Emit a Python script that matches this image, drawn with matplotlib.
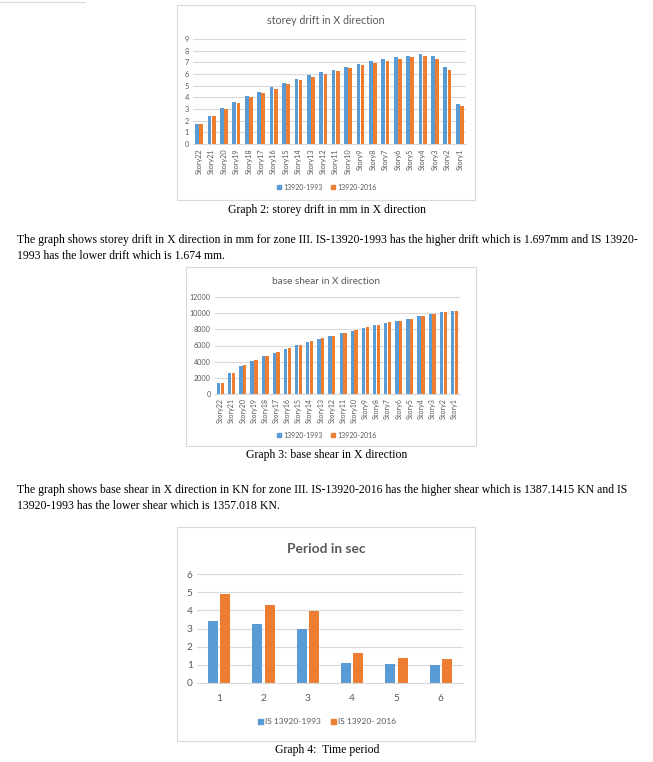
import numpy as np
import matplotlib
matplotlib.use("Agg")
import matplotlib.pyplot as plt
from matplotlib.patches import Rectangle, Patch
from matplotlib.lines import Line2D

W, H = 653, 762
BLUE = "#5B9BD5"
ORANGE = "#ED7D31"
GRID = "#D9D9D9"
TXT = "#595959"
CHART_FONT = "Lato"
DOC_FONT = "Liberation Serif"
DOC_FS = 8.45

# data
stories = [f"Story{i}" for i in range(22, 0, -1)]
drift_1993 = [1.70, 2.40, 3.07, 3.62, 4.10, 4.50, 4.85, 5.22, 5.57, 5.90, 6.15,
              6.37, 6.63, 6.88, 7.08, 7.27, 7.45, 7.55, 7.68, 7.52, 6.60, 3.40]
drift_2016 = [1.69, 2.38, 3.00, 3.55, 4.00, 4.37, 4.75, 5.12, 5.47, 5.77, 6.00,
              6.25, 6.52, 6.75, 6.97, 7.15, 7.30, 7.45, 7.55, 7.30, 6.35, 3.22]
shear_1993 = [1357, 2550, 3500, 4130, 4650, 5100, 5600, 6050, 6480, 6830, 7200,
              7500, 7850, 8200, 8480, 8750, 8980, 9250, 9600, 9870, 10130, 10230]
shear_2016 = [1387, 2620, 3560, 4230, 4750, 5200, 5650, 6100, 6530, 6930, 7230,
              7600, 7950, 8300, 8580, 8850, 9050, 9330, 9680, 9950, 10200, 10320]
modes = ["1", "2", "3", "4", "5", "6"]
period_1993 = [3.40, 3.27, 2.97, 1.10, 1.05, 0.97]
period_2016 = [4.90, 4.30, 3.97, 1.63, 1.40, 1.30]

para1 = ["The graph shows storey drift in X direction in mm for zone III. IS-13920-1993 has the higher drift which is 1.697mm and IS 13920-",
         "1993 has the lower drift which is 1.674 mm."]
para2 = ["The graph shows base shear in X direction in KN for zone III. IS-13920-2016 has the higher shear which is 1387.1415 KN and IS",
         "13920-1993 has the lower shear which is 1357.018 KN."]

fig = plt.figure(figsize=(W / 100, H / 100), dpi=100)
fig.patch.set_facecolor("white")


def fx(x):
    return x / W


def fy(y):
    return 1 - y / H


def chart_box(x0, y0, x1, y1):
    fig.add_artist(Rectangle((fx(x0), fy(y1)), (x1 - x0) / W, (y1 - y0) / H,
                             transform=fig.transFigure, fill=False,
                             edgecolor=GRID, lw=0.8))


def bar_chart(px, cats, a, b, ymax, ystep, width, off, tick_fs, rot, xpad=3):
    x0, y0, x1, y1 = px
    ax = fig.add_axes([fx(x0), fy(y1), (x1 - x0) / W, (y1 - y0) / H])
    x = np.arange(len(cats))
    ax.bar(x - off, a, width, color=BLUE, zorder=2)
    ax.bar(x + off, b, width, color=ORANGE, zorder=2)
    ax.set_xlim(-0.5, len(cats) - 0.5)
    ax.set_ylim(0, ymax)
    ax.set_yticks(np.arange(0, ymax + ystep / 2, ystep))
    ax.set_xticks(x)
    ax.set_xticklabels(cats, rotation=rot, fontfamily=CHART_FONT)
    for lab in ax.get_yticklabels():
        lab.set_fontfamily(CHART_FONT)
    ax.grid(axis="y", color=GRID, lw=0.8, zorder=0)
    ax.set_axisbelow(True)
    for s in ["top", "right", "left"]:
        ax.spines[s].set_visible(False)
    ax.spines["bottom"].set_color(GRID)
    ax.tick_params(length=0, colors=TXT, labelsize=tick_fs, pad=3)
    ax.tick_params(axis="x", pad=xpad)
    return ax


def legend(xc, yc, labels, fs):
    handles = [Patch(color=BLUE, label=labels[0]), Patch(color=ORANGE, label=labels[1])]
    fig.legend(handles=handles, loc="center", bbox_to_anchor=(fx(xc), fy(yc)),
               ncol=2, frameon=False, handlelength=0.6, handleheight=0.6,
               handletextpad=0.3, columnspacing=1.2,
               prop={"family": CHART_FONT, "size": fs}, labelcolor=TXT)


# faint edge of previous chart box
fig.add_artist(Line2D([0, fx(85)], [fy(2), fy(2)], transform=fig.transFigure,
                      color=GRID, lw=0.8))

# ---- Graph 2: storey drift
chart_box(177, 5, 475, 200)
fig.text(fx(326), fy(21), "storey drift in X direction", ha="center", va="center",
         fontfamily=CHART_FONT, fontsize=7.7, color=TXT)
bar_chart((193, 39, 466, 144), stories, drift_1993, drift_2016, 9, 1,
          0.3, 0.17, 5.3, 90)
legend(327, 187, ["13920-1993", "13920-2016"], 5)
fig.text(fx(327), fy(210), "Graph 2: storey drift in mm in X direction",
         ha="center", va="center", fontfamily=DOC_FONT, fontsize=DOC_FS)
fig.text(fx(17), fy(240), para1[0], ha="left", va="center", fontfamily=DOC_FONT, fontsize=DOC_FS)
fig.text(fx(17), fy(256), para1[1], ha="left", va="center", fontfamily=DOC_FONT, fontsize=DOC_FS)

# ---- Graph 3: base shear
chart_box(186, 267, 476, 446)
fig.text(fx(326), fy(281), "base shear in X direction", ha="center", va="center",
         fontfamily=CHART_FONT, fontsize=7.2, color=TXT)
bar_chart((215, 297, 460, 394), stories, shear_1993, shear_2016, 12000, 2000,
          0.3, 0.17, 5.1, 90)
legend(327, 435, ["13920-1993", "13920-2016"], 5)
fig.text(fx(327), fy(455), "Graph 3: base shear in X direction",
         ha="center", va="center", fontfamily=DOC_FONT, fontsize=DOC_FS)
fig.text(fx(17), fy(490), para2[0], ha="left", va="center", fontfamily=DOC_FONT, fontsize=DOC_FS)
fig.text(fx(17), fy(506), para2[1], ha="left", va="center", fontfamily=DOC_FONT, fontsize=DOC_FS)

# ---- Graph 4: time period
chart_box(177, 527, 475, 741)
fig.text(fx(326), fy(549), "Period in sec", ha="center", va="center",
         fontfamily=CHART_FONT, fontsize=9.9, fontweight="bold", color=TXT)
bar_chart((197, 574, 463, 683), modes, period_1993, period_2016, 6, 1,
          0.22, 0.14, 7.3, 0, xpad=8)
legend(327, 722, ["IS 13920-1993", "IS 13920- 2016"], 6)
fig.text(fx(327), fy(750), "Graph 4:  Time period",
         ha="center", va="center", fontfamily=DOC_FONT, fontsize=DOC_FS)

fig.savefig("out.png", dpi=100, facecolor="white")
